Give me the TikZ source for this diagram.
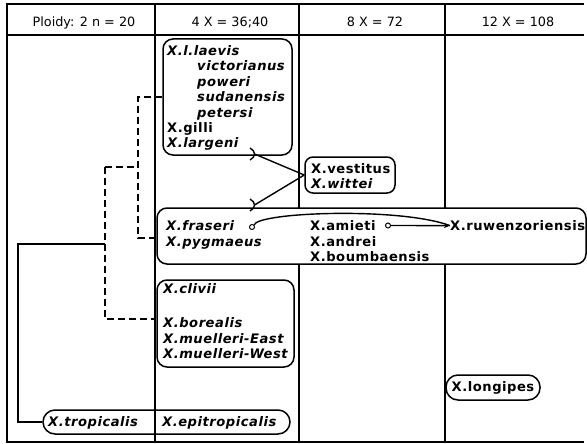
\documentclass[tikz,border=0pt]{standalone}
\usepackage{fontspec}
\setmainfont{DejaVu Sans}
\newfontfamily\spfont[LetterSpace=4]{DejaVu Sans}
\usetikzlibrary{arrows.meta}
\begin{document}
\begin{tikzpicture}[x=1pt,y=-1pt,
  tline/.style={line width=1.5pt},
  box/.style={draw, line width=1.5pt, rounded corners=10pt, inner sep=0pt},
  sp/.style={inner sep=0pt, anchor=base west, font=\fontsize{13.1}{15}\spfont\bfseries},
  spi/.style={inner sep=0pt, anchor=base west, font=\fontsize{13.1}{15}\spfont\bfseries\itshape},
  hd/.style={inner sep=0pt, anchor=base, font=\fontsize{12.8}{15}\selectfont},
  dsh/.style={line width=1.4pt, dash pattern=on 7pt off 4pt},
  conn/.style={line width=1.4pt},
  dot/.style={circle, draw, line width=1pt, inner sep=0pt, minimum size=5pt}]
\useasboundingbox (0,0) rectangle (587,444);
% table
\draw[tline] (584,4) -- (7,4) -- (7,442) -- (584,442);
\draw[tline] (7,35) -- (584,35);
\foreach \x in {155,299,445} \draw[tline] (\x,4) -- (\x,442);
% header
\node[hd] (h1) at (84,27) {Ploidy: 2 n = 20};
\node[hd] (h2) at (230,27) {4 X = 36;40};
\node[hd] (h3) at (375,27) {8 X = 72};
\node[hd] (h4) at (518,27) {12 X = 108};
% box 1
\node[box, minimum width=129pt, minimum height=116pt] (b1) at (227.5,97) {};
\node[spi] (t11) at (167,55.5) {X.l.laevis};
\node[spi] (t12) at (197,70.9) {victorianus};
\node[spi] (t13) at (197,86.3) {poweri};
\node[spi] (t14) at (197,101.7) {sudanensis};
\node[spi] (t15) at (197,117.1) {petersi};
\node[sp]  (t16) at (167,132.5) {X.gilli};
\node[spi] (t17) at (167,147.9) {X.largeni};
% box 2
\node[box, rounded corners=8pt, minimum width=90pt, minimum height=36pt] (b2) at (350,175) {};
\node[sp]  (t21) at (311,173) {X.vestitus};
\node[spi] (t22) at (311,188.5) {X.wittei};
% box 3
\node[box, fill=white, minimum width=429pt, minimum height=56pt] (b3) at (371.5,236) {};
\node[spi] (t31) at (166,230.7) {X.fraseri};
\node[spi] (t32) at (166,246.1) {X.pygmaeus};
\node[sp]  (t33) at (310,230.5) {X.amieti};
\node[sp]  (t34) at (310,246) {X.andrei};
\node[sp]  (t35) at (310,261.4) {X.boumbaensis};
\node[sp]  (ruw) at (450,230.5) {X.ruwenzoriensis};
\node[dot] (c1) at (252,227) {};
\node[dot] (c2) at (388,225.5) {};
\draw[conn, -{Stealth[length=6pt,width=5pt]}] (c2.east) -- (ruw.west);
\draw[conn] (c1.north east) .. controls (258,212) and (400,207) .. (ruw.west);
% box 4
\node[box, minimum width=137pt, minimum height=87pt] (b4) at (225.5,323.5) {};
\node[spi] (t41) at (163,293) {X.clivii};
\node[spi] (t42) at (163,327.5) {X.borealis};
\node[spi] (t43) at (163,343) {X.muelleri-East};
\node[spi] (t44) at (163,358.5) {X.muelleri-West};
% box 5
\node[box, rounded corners=12pt, minimum width=247pt, minimum height=24pt] (b5) at (166.5,422) {};
\node[spi] (t51) at (48,426.7) {X.tropicalis};
\node[spi] (t52) at (162,426.7) {X.epitropicalis};
% box 6
\node[box, rounded corners=12pt, minimum width=94pt, minimum height=25pt, inner sep=0pt,
      font=\fontsize{13.1}{15}\spfont\bfseries] (b6) at (493,387.5) {X.longipes};
% vestitus/wittei links
\draw[conn] (250,148) .. controls (256,151) and (256,157) .. (250,160);
\draw[conn] (250,199) .. controls (256,202) and (256,208) .. (250,211);
\coordinate (a1) at (254.5,154);
\coordinate (a2) at (254.5,205);
\draw[conn] (a1) -- (b2.west);
\draw[conn] (a2) -- (b2.west);
% tree
\coordinate (s1) at (18,244);
\coordinate (d1) at (105,167);
\coordinate (d2) at (105,319);
\coordinate (e1) at (138,97);
\coordinate (e2) at (138,238);
\draw[conn] (b5.west) -- (b5.west -| s1) -- (s1) -- (s1 -| d1);
\draw[dsh] (d1) -- (d2) -- (d2 -| b4.west);
\draw[dsh] (d1) -- (d1 -| e1);
\draw[dsh] (b1.west) -- (e1) -- (e2) -- (e2 -| b3.west);
\end{tikzpicture}
\end{document}
